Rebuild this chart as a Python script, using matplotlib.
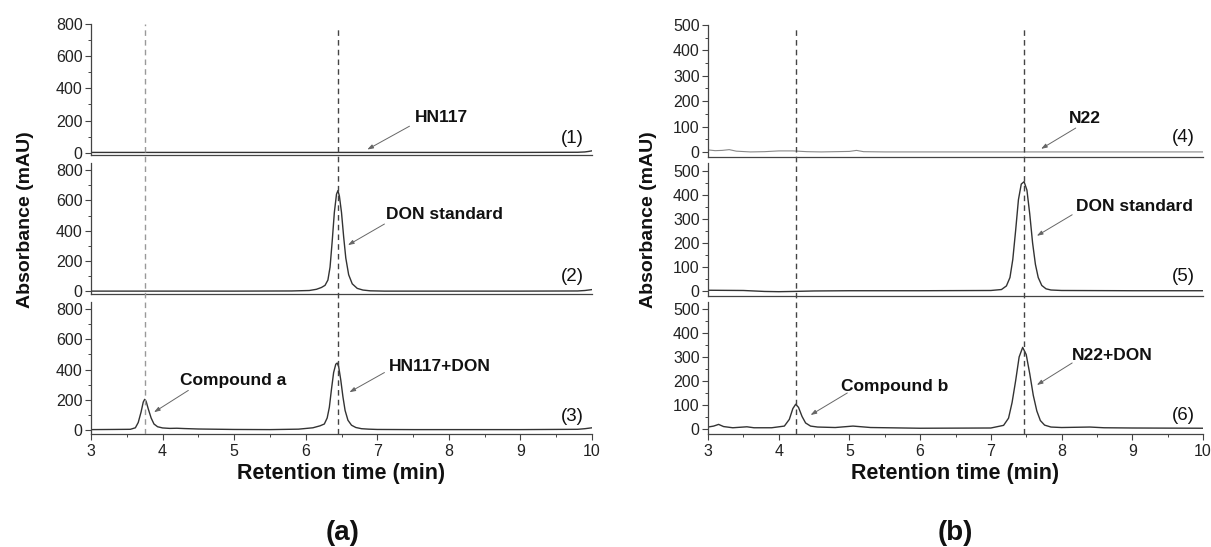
import matplotlib
matplotlib.use('Agg')
import matplotlib.pyplot as plt
from matplotlib.ticker import MultipleLocator

plt.rcParams['font.family'] = ['Liberation Sans', 'DejaVu Sans']

# chromatogram traces (time in min, absorbance in mAU)
t1 = [3.0, 4.0, 5.0, 6.0, 7.0, 8.0, 9.0, 9.8, 9.9, 9.95, 10.0]
y1 = [2, 2, 2, 2, 2, 2, 2, 3, 5, 8, 12]

t2 = [3.0, 4.0, 5.0, 5.8, 6.05, 6.15, 6.22, 6.27, 6.31, 6.34, 6.37, 6.40, 6.43, 6.45,
      6.47, 6.50, 6.53, 6.56, 6.60, 6.65, 6.72, 6.80, 6.90, 7.1, 8.0, 9.0, 9.8, 9.9, 10.0]
y2 = [2, 2, 2, 3, 6, 14, 26, 40, 75, 160, 330, 520, 640, 664,
      630, 520, 360, 220, 110, 50, 20, 9, 4, 2, 2, 2, 3, 6, 12]

t3 = [3.0, 3.3, 3.55, 3.62, 3.66, 3.70, 3.73, 3.75, 3.77, 3.80, 3.84, 3.88, 3.93, 4.0,
      4.1, 4.2, 4.3, 4.5, 5.0, 5.5, 5.9, 6.1, 6.2, 6.26, 6.30, 6.33, 6.36, 6.39, 6.42,
      6.44, 6.46, 6.49, 6.52, 6.55, 6.59, 6.64, 6.70, 6.78, 6.88, 7.0, 7.5, 8.0, 9.0,
      9.8, 9.9, 10.0]
y3 = [3, 4, 5, 15, 50, 120, 185, 203, 190, 140, 80, 40, 22, 14,
      11, 12, 10, 7, 4, 3, 6, 15, 28, 40, 80, 150, 270, 380, 435,
      443, 420, 330, 220, 130, 65, 32, 17, 9, 6, 4, 3, 3, 3,
      5, 9, 15]

t4 = [3.0, 3.1, 3.2, 3.3, 3.4, 3.6, 3.8, 4.0, 4.2, 4.4, 4.6, 4.8, 5.0, 5.1, 5.2, 5.5,
      6.0, 7.0, 8.0, 9.0, 10.0]
y4 = [8, 5, 6, 9, 3, 0, 1, 4, 4, 1, 0, 1, 2, 6, 1, 0, 0, 0, 0, 0, 0]

t5 = [3.0, 3.5, 3.8, 4.0, 4.2, 4.5, 5.0, 6.0, 7.0, 7.15, 7.22, 7.27, 7.31, 7.35, 7.39,
      7.43, 7.47, 7.51, 7.55, 7.59, 7.63, 7.67, 7.72, 7.78, 7.85, 8.0, 9.0, 10.0]
y5 = [2, 1, -3, -4, -3, -1, 0, 0, 1, 5, 20, 55, 130, 250, 380,
      445, 455, 420, 320, 200, 110, 55, 22, 8, 3, 1, 0, 0]

t6 = [3.0, 3.08, 3.15, 3.22, 3.35, 3.55, 3.65, 3.9, 4.08, 4.15, 4.20, 4.24, 4.28, 4.33,
      4.38, 4.45, 4.55, 4.8, 5.05, 5.3, 6.0, 7.0, 7.18, 7.25, 7.30, 7.35, 7.40, 7.45,
      7.50, 7.55, 7.60, 7.65, 7.70, 7.76, 7.85, 8.0, 8.4, 8.6, 9.0, 10.0]
y6 = [8, 12, 19, 10, 5, 9, 5, 5, 12, 40, 85, 103, 90, 52,
      25, 12, 8, 6, 12, 6, 3, 4, 15, 45, 110, 200, 300, 340,
      310, 230, 140, 75, 35, 16, 8, 6, 8, 5, 4, 3]

ref_a = [3.75, 6.45]   # dashed retention-time markers, panel (a)
ref_b = [4.25, 7.47]   # panel (b)

W, H = 1211, 547
fig = plt.figure(figsize=(W / 100, H / 100), dpi=100)


def box(left, right, top, bottom):
    return [left / W, (H - bottom) / H, (right - left) / W, (bottom - top) / H]


def style(ax, ylim, major, minor, bottom=False):
    ax.set_xlim(3, 10)
    ax.set_ylim(*ylim)
    for s in ['top', 'right']:
        ax.spines[s].set_visible(False)
    for s in ['left', 'bottom']:
        ax.spines[s].set_color('#444444')
        ax.spines[s].set_linewidth(0.9)
    ax.yaxis.set_major_locator(MultipleLocator(major))
    ax.yaxis.set_minor_locator(MultipleLocator(minor))
    ax.set_yticks([v for v in ax.get_yticks() if 0 <= v <= ylim[1]])
    ax.tick_params(axis='y', which='major', length=4, width=0.8, color='#444444',
                   labelsize=11.5, labelcolor='#222222', pad=2)
    ax.tick_params(axis='y', which='minor', length=2.5, width=0.7, color='#444444')
    if bottom:
        ax.xaxis.set_major_locator(MultipleLocator(1))
        ax.xaxis.set_minor_locator(MultipleLocator(0.5))
        ax.tick_params(axis='x', which='major', length=4, width=0.8, color='#444444',
                       labelsize=11.5, labelcolor='#222222', pad=3)
        ax.tick_params(axis='x', which='minor', length=2.5, width=0.7, color='#444444')
    else:
        ax.tick_params(axis='x', which='both', bottom=False, labelbottom=False)
    ax.patch.set_alpha(0)


def label(ax, txt, tx, ty, tail, head):
    ax.text(tx, ty, txt, ha='center', va='center', fontsize=12.5, fontweight='bold',
            color='#111111')
    ax.annotate('', xy=head, xytext=tail,
                arrowprops=dict(arrowstyle='-|>,head_length=0.35,head_width=0.12',
                                color='#666666', lw=0.7, shrinkA=0, shrinkB=0))


def tag(ax, txt, y):
    ax.text(9.72, y, txt, ha='center', va='center', fontsize=13.5, color='#111111')


# ---- panel (a)
L0, L1 = 91, 592
a1 = fig.add_axes(box(L0, L1, 24, 155))
a2 = fig.add_axes(box(L0, L1, 163, 294))
a3 = fig.add_axes(box(L0, L1, 302, 434))
for ax, t, y in [(a1, t1, y1), (a2, t2, y2), (a3, t3, y3)]:
    ax.plot(t, y, color='#333333', lw=1.0)
style(a1, (-14, 800), 200, 100)
style(a2, (-17, 846), 200, 100)
style(a3, (-26, 846), 200, 100, bottom=True)

label(a1, 'HN117', 7.89, 217, (7.45, 165), (6.86, 20))
tag(a1, '(1)', 90)
label(a2, 'DON standard', 7.94, 510, (7.1, 444), (6.59, 305))
tag(a2, '(2)', 99)
label(a3, 'Compound a', 4.98, 328, (4.36, 262), (3.88, 118))
label(a3, 'HN117+DON', 7.87, 420, (7.1, 380), (6.61, 250))
tag(a3, '(3)', 92)

ov_a = fig.add_axes(box(L0, L1, 24, 434))
ov_a.set_xlim(3, 10)
ov_a.set_ylim(0, 1)
ov_a.axis('off')
ov_a.axvline(ref_a[0], color='#999999', lw=1.0, ls=(0, (4, 3)))
ov_a.axvline(ref_a[1], color='#444444', lw=1.0, ls=(0, (4, 3)), ymin=0, ymax=0.993)

# ---- panel (b)
R0, R1 = 708, 1203
b1 = fig.add_axes(box(R0, R1, 25, 157))
b2 = fig.add_axes(box(R0, R1, 163, 296))
b3 = fig.add_axes(box(R0, R1, 302, 434))
b1.plot(t4, y4, color='#888888', lw=0.8)
b2.plot(t5, y5, color='#333333', lw=1.0)
b3.plot(t6, y6, color='#333333', lw=1.0)
style(b1, (-20, 500), 100, 50)
style(b2, (-22, 533), 100, 50)
style(b3, (-21, 529), 100, 50, bottom=True)

label(b1, 'N22', 8.33, 130, (8.2, 94), (7.71, 12))
tag(b1, '(4)', 55)
label(b2, 'DON standard', 9.03, 350, (8.15, 317), (7.65, 229))
tag(b2, '(5)', 58)
label(b3, 'Compound b', 5.64, 179, (4.97, 150), (4.45, 58))
label(b3, 'N22+DON', 8.71, 308, (8.15, 275), (7.65, 183))
tag(b3, '(6)', 54)

ov_b = fig.add_axes(box(R0, R1, 27, 434))
ov_b.set_xlim(3, 10)
ov_b.set_ylim(0, 1)
ov_b.axis('off')
for x in ref_b:
    ov_b.axvline(x, color='#444444', lw=1.0, ls=(0, (4, 3)))

# ---- axis titles and panel letters
for cx in [(L0 + L1) / 2, (R0 + R1) / 2]:
    fig.text(cx / W, 1 - 474 / H, 'Retention time (min)', ha='center', va='center',
             fontsize=15.5, fontweight='bold', color='#111111')
fig.text(25 / W, 1 - 220 / H, 'Absorbance (mAU)', rotation=90, ha='center', va='center',
         fontsize=14, fontweight='bold', color='#111111')
fig.text(648 / W, 1 - 220 / H, 'Absorbance (mAU)', rotation=90, ha='center', va='center',
         fontsize=14, fontweight='bold', color='#111111')
fig.text(343 / W, 1 - 533 / H, '(a)', ha='center', va='center', fontsize=20,
         fontweight='bold', color='#111111')
fig.text(955 / W, 1 - 533 / H, '(b)', ha='center', va='center', fontsize=20,
         fontweight='bold', color='#111111')

fig.savefig('out.png', dpi=100, facecolor='white')
